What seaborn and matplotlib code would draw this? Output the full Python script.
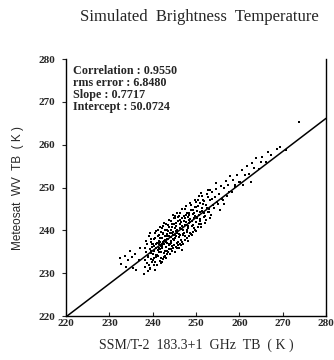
import numpy as np
import pandas as pd
import seaborn as sns
import matplotlib
matplotlib.use("Agg")
import matplotlib.pyplot as plt

# statistics printed on the chart
correlation = 0.9550
rms_error = 6.8480
slope = 0.7717
intercept = 50.0724

# SSM/T-2 183.3+1 GHz TB (K)
ssmt2_tb = [
    232.4, 232.6, 233.5, 234.2, 234.8, 235.5, 236.2, 236.0, 236.8, 237.0, 235.2, 233.9,
    238.2, 238.5, 238.7, 238.1, 238.9, 238.4, 238.6, 238.3, 238.8, 238.0,
    239.1, 239.3, 239.5, 239.7, 239.9, 239.2, 239.4, 239.6, 239.8, 239.0, 239.5, 239.3,
    240.1, 240.3, 240.5, 240.7, 240.9, 240.2, 240.4, 240.6, 240.8, 240.0, 240.5, 240.3, 240.7,
    241.0, 241.2, 241.4, 241.6, 241.8, 241.1, 241.3, 241.5, 241.7, 241.9, 241.4, 241.2, 241.6, 241.8,
    242.0, 242.2, 242.4, 242.6, 242.8, 242.1, 242.3, 242.5, 242.7, 242.9, 242.4, 242.2, 242.6, 242.8,
    243.0, 243.2, 243.4, 243.6, 243.8, 243.1, 243.3, 243.5, 243.7, 243.9, 243.4, 243.6, 243.2, 243.8,
    244.0, 244.2, 244.4, 244.6, 244.8, 244.1, 244.3, 244.5, 244.7, 244.9, 244.4, 244.6, 244.2, 244.8,
    245.0, 245.2, 245.4, 245.6, 245.8, 245.1, 245.3, 245.5, 245.7, 245.9, 245.4, 245.6, 245.2,
    246.0, 246.2, 246.4, 246.6, 246.8, 246.1, 246.3, 246.5, 246.7, 246.9, 246.4, 246.6,
    247.0, 247.2, 247.4, 247.6, 247.8, 247.1, 247.3, 247.5, 247.7, 247.9, 247.4,
    248.0, 248.2, 248.4, 248.6, 248.8, 248.1, 248.3, 248.5, 248.7, 248.9, 248.4,
    249.0, 249.2, 249.4, 249.6, 249.8, 249.1, 249.3, 249.5, 249.7, 249.9,
    250.0, 250.2, 250.4, 250.6, 250.8, 250.1, 250.3, 250.5, 250.7, 250.9,
    251.0, 251.3, 251.6, 251.9, 251.2, 251.5, 251.8, 251.4,
    252.1, 252.4, 252.7, 252.9, 252.3, 252.6, 252.8,
    253.0, 253.3, 253.6, 253.9, 253.5, 253.2,
    254.1, 254.4, 254.7, 254.9, 254.5,
    255.1, 255.4, 255.7, 255.9, 255.5,
    256.2, 256.5, 256.8, 256.4,
    257.1, 257.4, 257.8, 257.6,
    258.2, 258.5, 258.9,
    259.1, 259.4, 259.8,
    260.2, 260.6, 260.9,
    261.3, 261.7,
    262.2, 262.6, 262.9,
    263.4, 263.8,
    264.5, 264.9,
    265.3,
    266.2, 266.7,
    267.4, 268.6, 269.3, 270.8, 273.7,
    # second pass over the dense core
    239.25, 239.65, 239.85, 240.15, 240.45, 240.65, 240.85, 240.25,
    241.05, 241.25, 241.45, 241.65, 241.85, 241.35, 241.75,
    242.05, 242.25, 242.45, 242.65, 242.85, 242.35, 242.75, 242.15,
    243.05, 243.25, 243.45, 243.65, 243.85, 243.35, 243.75, 243.15,
    244.05, 244.25, 244.45, 244.65, 244.85, 244.35, 244.75, 244.15,
    245.05, 245.25, 245.45, 245.65, 245.85, 245.35, 245.75, 245.15,
    246.05, 246.25, 246.45, 246.65, 246.85, 246.35, 246.75, 246.15,
    247.05, 247.25, 247.45, 247.65, 247.85, 247.35, 247.75,
    248.05, 248.25, 248.45, 248.65, 248.85, 248.35,
    249.05, 249.25, 249.45, 249.65, 249.85,
    250.05, 250.25, 250.45, 250.65, 250.85,
    251.05, 251.45, 251.75, 251.25,
    252.15, 252.55, 252.85,
    253.15, 253.75,
]

# Meteosat WV TB (K)
meteosat_tb = [
    233.6, 232.2, 234.1, 233.0, 235.3, 231.2, 230.7, 234.6, 233.1, 235.9, 233.8, 231.5,
    231.4, 234.9, 236.8, 233.2, 230.6, 237.5, 232.3, 235.8, 234.1, 229.9,
    232.0, 235.6, 237.9, 233.4, 236.2, 238.6, 231.2, 234.7, 236.9, 233.8, 235.1, 239.4,
    233.1, 236.4, 238.2, 234.3, 237.0, 231.9, 235.2, 239.3, 233.7, 236.8, 232.6, 237.9, 235.8,
    234.2, 237.1, 239.0, 232.8, 236.3, 235.5, 240.1, 234.9, 238.2, 233.6, 236.9, 238.7, 235.7, 239.6,
    235.0, 238.3, 233.4, 237.5, 240.2, 236.4, 239.1, 234.7, 236.9, 238.8, 241.0, 235.8, 233.9, 237.7,
    236.1, 239.2, 234.6, 238.0, 240.7, 237.4, 235.3, 241.3, 236.6, 239.5, 237.9, 234.9, 240.1, 238.6,
    236.8, 240.0, 235.2, 238.9, 241.5, 237.6, 242.2, 236.3, 239.7, 237.9, 240.8, 235.9, 238.5, 243.0,
    237.7, 240.6, 236.2, 239.4, 242.3, 238.3, 241.7, 237.0, 240.1, 243.1, 238.8, 235.8, 242.8,
    238.5, 241.4, 236.9, 240.3, 243.0, 239.2, 242.4, 237.8, 241.0, 238.9, 244.0, 236.5,
    239.1, 242.2, 237.8, 241.2, 244.1, 240.0, 243.3, 238.6, 241.9, 239.7, 245.0,
    240.2, 243.1, 238.7, 242.0, 244.8, 241.1, 244.0, 239.5, 242.7, 246.0, 241.7,
    241.0, 243.9, 239.6, 242.8, 245.5, 242.1, 244.8, 240.6, 243.4, 246.7,
    242.0, 244.6, 240.8, 243.6, 246.3, 245.4, 242.9, 247.2, 241.5, 244.2,
    242.7, 245.3, 247.1, 244.0, 241.6, 246.2, 243.1, 248.0,
    243.4, 246.0, 247.8, 245.0, 242.5, 248.6, 244.3,
    244.4, 247.0, 248.9, 246.0, 243.6, 249.5,
    245.2, 247.9, 249.6, 246.6, 251.0,
    246.1, 248.6, 250.3, 247.4, 244.8,
    247.0, 249.8, 251.5, 246.2,
    248.0, 250.6, 252.6, 248.9,
    249.0, 251.8, 250.2,
    250.6, 253.0, 251.2,
    251.3, 254.2, 250.5,
    252.9, 255.1,
    253.2, 251.4, 255.8,
    254.6, 256.9,
    254.3, 256.0,
    257.1,
    256.0, 258.2,
    257.6, 259.0, 259.5, 258.8, 265.4,
    # second pass over the dense core
    230.9, 237.2, 232.7, 234.5, 230.8, 236.9, 239.8, 233.6,
    231.9, 234.0, 237.6, 240.7, 232.4, 235.9, 237.3,
    232.6, 236.9, 239.4, 241.8, 234.1, 237.2, 235.3, 240.5,
    233.5, 237.1, 239.9, 242.4, 235.6, 238.6, 236.8, 241.6,
    234.4, 237.0, 239.3, 243.6, 236.5, 241.4, 238.1, 235.6,
    235.0, 238.9, 241.1, 244.0, 237.3, 239.9, 236.6, 243.4,
    236.0, 239.0, 242.0, 244.9, 237.4, 240.6, 235.4, 243.3,
    236.8, 239.5, 242.8, 245.6, 238.2, 241.3, 243.6,
    237.6, 240.5, 243.5, 246.5, 239.1, 242.5,
    238.9, 241.3, 244.1, 247.2, 240.0,
    239.8, 243.1, 245.7, 248.0, 242.2,
    240.9, 244.5, 246.8, 248.7,
    241.8, 245.3, 249.4,
    243.0, 247.4,
]

axis_min, axis_max = 220, 280
tick_values = [220, 230, 240, 250, 260, 270, 280]

pts = pd.DataFrame({"ssmt2": ssmt2_tb, "meteosat": meteosat_tb})
fit_x = np.array([axis_min, axis_max])
fit = pd.DataFrame({"x": fit_x, "y": slope * fit_x + intercept})

sns.set_style("ticks")
plt.rcParams["font.family"] = ["Liberation Serif", "DejaVu Serif"]

fig = plt.figure(figsize=(3.34, 3.6), dpi=100)
ax = fig.add_axes([0.198, 0.122, 0.778, 0.714])

sns.scatterplot(data=pts, x="ssmt2", y="meteosat", ax=ax, s=4, color="black",
                marker="s", linewidth=0, legend=False)
sns.lineplot(data=fit, x="x", y="y", ax=ax, color="black", linewidth=1.1)

ax.set_xlim(axis_min, axis_max)
ax.set_ylim(axis_min, axis_max)
ax.set_xticks(tick_values)
ax.set_yticks(tick_values)
ax.tick_params(axis="x", direction="in", length=3, width=0.8, labelsize=8, pad=2)
ax.tick_params(axis="y", direction="out", length=3, width=0.8, labelsize=8, pad=5)
for lab in ax.get_xticklabels() + ax.get_yticklabels():
    lab.set_fontweight("bold")
for side in ["left", "bottom", "right"]:
    ax.spines[side].set_visible(True)
    ax.spines[side].set_linewidth(1.0)
    ax.spines[side].set_color("black")
ax.spines["top"].set_visible(False)

stats_text = (f"Correlation : {correlation:.4f}\n"
              f"rms error : {rms_error:.4f}\n"
              f"Slope : {slope:.4f}\n"
              f"Intercept : {intercept:.4f}")
ax.text(0.025, 0.975, stats_text, transform=ax.transAxes, ha="left", va="top",
        fontsize=8.7, fontweight="bold", linespacing=1.0)

ax.set_xlabel("SSM/T-2  183.3+1  GHz  TB  ( K )", fontsize=10, labelpad=8)
ax.set_ylabel("Meteosat  WV  TB  ( K )", fontsize=8.5, labelpad=10,
              family=["Liberation Sans", "DejaVu Sans"])
fig.text(0.598, 0.953, "Simulated  Brightness  Temperature", ha="center", va="center",
         fontsize=12)

fig.savefig("out.png", dpi=100)
